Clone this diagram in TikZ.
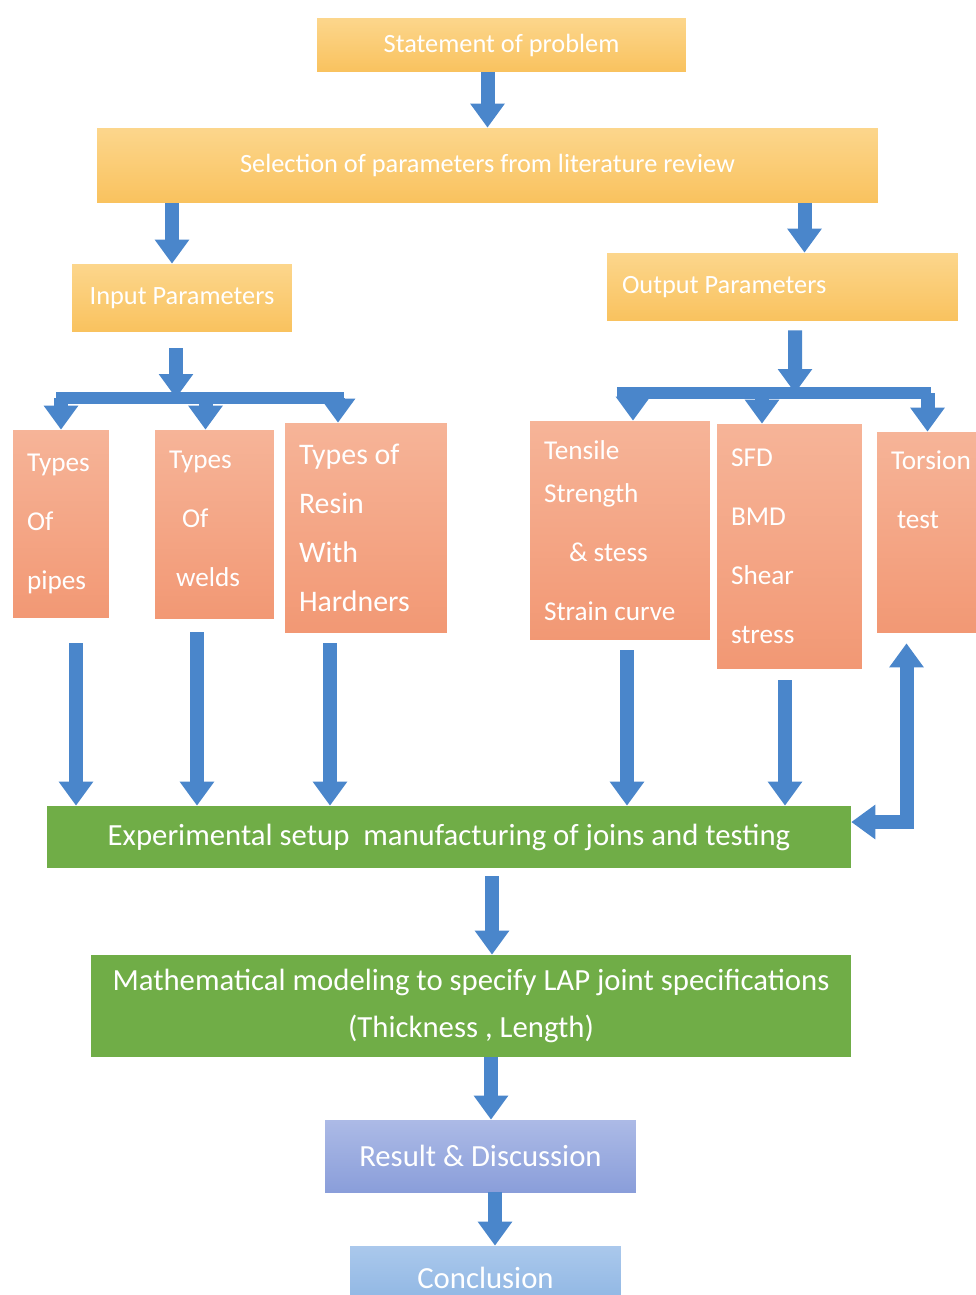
\documentclass[tikz,border=0pt]{standalone}
\usepackage{fontspec}
\setmainfont{Carlito}
\usetikzlibrary{arrows.meta,calc}
\definecolor{flowblue}{RGB}{74,134,203}
\definecolor{ylwtop} {RGB}{252,214,140}
\definecolor{ylwbot} {RGB}{249,194,94}
\definecolor{salmtop}{RGB}{246,180,152}
\definecolor{salmbot}{RGB}{242,152,116}
\definecolor{grn}    {RGB}{112,173,71}
\definecolor{restop} {RGB}{172,186,230}
\definecolor{resbot} {RGB}{138,158,218}
\definecolor{contop} {RGB}{170,200,236}
\definecolor{conbot} {RGB}{140,180,226}

\begin{document}
\begin{tikzpicture}[
  x=0.02cm,y=-0.02cm,
  ylw/.style={rectangle,top color=ylwtop,bottom color=ylwbot,text=white,font=\fontsize{15}{18}\selectfont},
  salm/.style={rectangle,top color=salmtop,bottom color=salmbot,text=white,align=flush left,inner xsep=0.28cm,font=\fontsize{15.5}{33.5}\selectfont},
  grnbox/.style={rectangle,fill=grn,text=white,align=center,font=\fontsize{17.5}{27}\selectfont},
  bluebox/.style={rectangle,text=white,font=\fontsize{17.5}{20}\selectfont},
  flow/.style={draw=flowblue,line width=0.28cm,-{Triangle[width=0.66cm,length=0.48cm]}},
  flowboth/.style={draw=flowblue,line width=0.28cm,{Triangle[width=0.66cm,length=0.48cm]}-{Triangle[width=0.66cm,length=0.48cm]}},
  bar/.style={draw=flowblue,line width=0.24cm}]
  \useasboundingbox (0,0) rectangle (976,1295);
  % top
  \node[ylw,minimum width=7.38cm,minimum height=1.08cm](stmt) at(501.5,45){Statement of problem};
  \node[ylw,minimum width=15.62cm,minimum height=1.5cm](sel) at(487.5,165.5){Selection of parameters from literature review};
  \node[ylw,minimum width=4.4cm,minimum height=1.36cm](inp) at(182,298){Input Parameters};
  \node[ylw,align=flush left,text width=6.42cm,inner xsep=0.3cm,minimum height=1.36cm](out) at(782.5,287){Output Parameters};
  % input side
  \node[salm,text width=1.36cm,minimum height=3.76cm](pipes) at(61,524){Types\\Of\\pipes};
  \node[salm,text width=1.82cm,minimum height=3.78cm](welds) at(214.5,524.5){Types\\\hspace{0.26cm}Of\\\hspace{0.14cm}welds\\[-26.7pt]\mbox{}};
  \node[salm,text width=2.68cm,minimum height=4.2cm,font=\fontsize{17}{28}\selectfont](resin) at(366,528){Types of\\Resin\\With\\Hardners};
  % output side
  \node[salm,text width=3.04cm,minimum height=4.38cm](tens) at(620,530.5){Tensile\\[-8.5pt]Strength\\\hspace{0.5cm}\& stess\\Strain curve};
  \node[salm,text width=2.34cm,minimum height=4.9cm](sfd) at(789.5,546.5){SFD\\BMD\\Shear\\stress};
  \node[salm,text width=1.7cm,minimum height=4.02cm](tors) at(933.5,532.5){Torsion\\\hspace{0.12cm}test\\[15.7pt]\mbox{}};
  % bottom
  \node[grnbox,minimum width=16.08cm,minimum height=1.24cm](exp) at(449,837){Experimental setup\ \ manufacturing of joins and testing};
  \node[grnbox,minimum width=15.2cm,minimum height=2.04cm](math) at(471,1006){Mathematical modeling to specify LAP joint specifications\\(Thickness , Length)};
  \node[bluebox,top color=restop,bottom color=resbot,minimum width=6.22cm,minimum height=1.44cm](res) at(480.5,1156){Result \& Discussion};
  \node[bluebox,top color=contop,bottom color=conbot,minimum width=5.42cm,minimum height=1.28cm](conc) at(485.5,1278){Conclusion};
  \coordinate(ib) at(176,398);
  \coordinate(ob) at(795,393);
  % arrows
  \draw[flow](stmt.south -| sel.north)--(sel.north);
  \draw[flow]($(sel.south -| inp.north)+(-10,0)$)--($(inp.north)+(-10,0)$);
  \draw[flow]($(sel.south -| out.north)+(22,0)$)--($(out.north)+(22,0)$);
  \draw[flow]($(inp.south)+(-6,16)$)--(ib);
  \draw[bar]($(ib)+(-120,0)$)--($(ib)+(168,0)$);
  \draw[flow](ib -| pipes.north)--(pipes.north);
  \draw[flow]($(ib -| welds.north)+(-9,0)$)--($(welds.north)+(-9,0)$);
  \draw[flow]($(ib -| resin.north)+(-28,0)$)--($(resin.north)+(-28,0)$);
  \draw[flow]($(out.south)+(12.5,9)$)--(ob);
  \draw[bar]($(ob)+(-178,0)$)--($(ob)+(136,0)$);
  \draw[flow]($(ob -| tens.north)+(13,0)$)--($(tens.north)+(13,0)$);
  \draw[flow]($(ob -| sfd.north)+(-27.5,0)$)--($(sfd.north)+(-27.5,0)$);
  \draw[flow]($(ob -| tors.north)+(-6,0)$)--($(tors.north)+(-6,0)$);
  \foreach \b/\dx/\dy in {pipes/15/25,welds/-17.5/13,resin/-36/10,tens/7/10,sfd/-4.5/11}
    \draw[flow]($(\b.south)+(\dx,\dy)$) coordinate(s)--(s |- exp.north);
  \draw[flowboth]($(tors.south)+(-27,10)$)|-($(exp.east)+(0,-15)$);
  \draw[flow]($(exp.south)+(43,8)$) coordinate(e1)--(e1 |- math.north);
  \draw[flow]($(math.south)+(20,0)$) coordinate(m1)--(m1 |- res.north);
  \draw[flow]($(res.south)+(14.5,0)$) coordinate(r1)--(r1 |- conc.north);
\end{tikzpicture}
\end{document}
